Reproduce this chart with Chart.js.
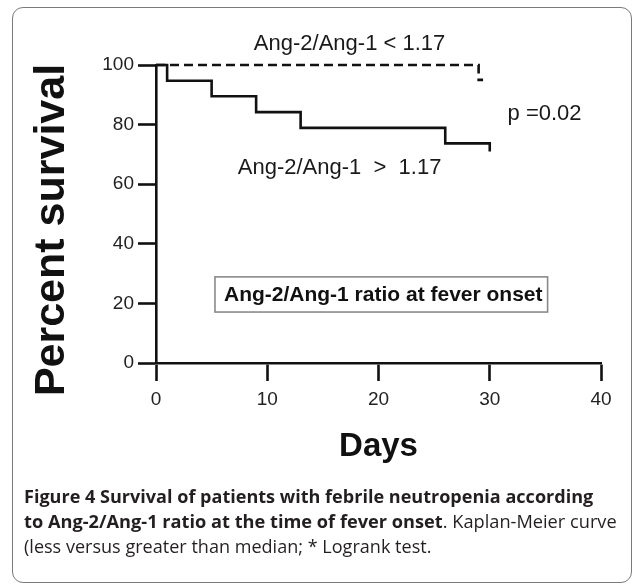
<!DOCTYPE html>
<html>
<head>
<meta charset="utf-8">
<script src="https://cdn.jsdelivr.net/npm/chart.js@4.4.1/dist/chart.umd.min.js"></script>
<style>
html,body{margin:0;padding:0;background:#fff;width:633px;height:584px;overflow:hidden;}
#wrap{position:relative;width:633px;height:584px;}
#frame{position:absolute;left:12px;top:7px;width:620px;height:576px;border:1px solid #7a7a7a;border-radius:11px;box-sizing:border-box;}
canvas{position:absolute;left:0;top:0;}
#caption{position:absolute;left:24px;top:484px;font-family:'Open Sans',sans-serif;font-size:17.5px;line-height:25px;color:#231f20;}
#caption .ln{display:block;white-space:nowrap;transform-origin:0 0;}
#caption b{font-weight:700;}
</style>
</head>
<body>
<div id="wrap">
  <div id="frame"></div>
  <canvas id="c" width="633" height="584"></canvas>
  <div id="caption">
    <span class="ln" data-w="588"><b>Figure 4 Survival of patients with febrile neutropenia according</b></span>
    <span class="ln" data-w="593"><b>to Ang-2/Ang-1 ratio at the time of fever onset</b>. Kaplan-Meier curve</span>
    <span class="ln">(less versus greater than median; * Logrank test.</span>
  </div>
</div>
<script>
// ---- data ----
const highDays      = [0, 1, 5, 9, 13, 26, 30, 30];
const highSurvival  = [100, 94.7, 89.5, 84.2, 78.9, 73.7, 73.7, 71];
const lowDays       = [0, 29, 29, 29.4];
const lowSurvival   = [100, 100, 95, 95];
const xTickValues   = [0, 10, 20, 30, 40];
const yTickValues   = [0, 20, 40, 60, 80, 100];
const seriesLabels  = ['Ang-2/Ang-1  >  1.17', 'Ang-2/Ang-1 < 1.17'];
const pValueText    = 'p =0.02';
const boxText       = 'Ang-2/Ang-1 ratio at fever onset';
const yTitle        = 'Percent survival';
const xTitle        = 'Days';

const FONT = "'Liberation Sans', Arial, Helvetica, sans-serif";
Chart.defaults.font.family = FONT;

const toXY = (xs, ys) => xs.map((v, i) => ({x: v, y: ys[i]}));

const annotate = {
  id: 'annotate',
  afterDraw(chart) {
    const {ctx, scales: {x, y}} = chart;
    ctx.save();
    ctx.fillStyle = '#1a1a1a';
    ctx.textBaseline = 'alphabetic';
    ctx.font = '22px ' + FONT;
    ctx.textAlign = 'center';
    ctx.fillText(seriesLabels[1], x.getPixelForValue(17.4), y.getPixelForValue(105));
    ctx.fillText(seriesLabels[0], x.getPixelForValue(16.5), y.getPixelForValue(63.4));
    ctx.textAlign = 'left';
    ctx.fillText(pValueText, x.getPixelForValue(31.6), y.getPixelForValue(81.5));

    // boxed note
    const bx1 = x.getPixelForValue(5.3), bx2 = x.getPixelForValue(35.2);
    const by1 = y.getPixelForValue(28.9), by2 = y.getPixelForValue(17.1);
    ctx.strokeStyle = '#8a8a8a';
    ctx.lineWidth = 1.6;
    ctx.strokeRect(bx1, by1, bx2 - bx1, by2 - by1);
    ctx.font = 'bold 21px ' + FONT;
    ctx.fillStyle = '#111';
    ctx.fillText(boxText, bx1 + 9, y.getPixelForValue(20.8));

    // rotated y title
    ctx.translate(64, 230);
    ctx.rotate(-Math.PI / 2);
    ctx.textAlign = 'center';
    ctx.font = 'bold 43px ' + FONT;
    ctx.fillText(yTitle, 0, 0);
    ctx.restore();
  }
};

const axisGrid = {display: true, drawOnChartArea: false, drawTicks: true, tickLength: 18, tickWidth: 2.6, tickColor: '#111'};
const axisBorder = {display: true, color: '#111', width: 2.6};

new Chart(document.getElementById('c'), {
  type: 'line',
  data: {
    datasets: [
      {label: seriesLabels[0], data: toXY(highDays, highSurvival), stepped: true,
       borderColor: '#111', borderWidth: 2.6, pointRadius: 0, fill: false, clip: false},
      {label: seriesLabels[1], data: toXY(lowDays, lowSurvival), stepped: true,
       borderColor: '#111', borderWidth: 2.6, borderDash: [9, 5], pointRadius: 0, fill: false, clip: false}
    ]
  },
  options: {
    responsive: false,
    animation: false,
    devicePixelRatio: 1,
    layout: {padding: {left: 12, top: 65, right: 32, bottom: 0}},
    plugins: {legend: {display: false}, tooltip: {enabled: false}},
    scales: {
      x: {
        type: 'linear', min: 0, max: 40,
        afterBuildTicks: s => { s.ticks = xTickValues.map(v => ({value: v})); },
        afterFit: s => { s.height = 221; },
        grid: axisGrid, border: axisBorder,
        ticks: {padding: 7, color: '#222', font: {size: 19}},
        title: {display: true, text: xTitle, color: '#111',
                font: {size: 33, weight: 'bold', lineHeight: 1}, padding: {top: 0, bottom: 121}}
      },
      y: {
        type: 'linear', min: 0, max: 100,
        afterBuildTicks: s => { s.ticks = yTickValues.map(v => ({value: v})); },
        afterFit: s => { s.width = 144; },
        grid: axisGrid, border: axisBorder,
        ticks: {padding: 4, color: '#222', font: {size: 19}}
      }
    }
  },
  plugins: [annotate]
});

function fitCaption() {
  const lines = document.querySelectorAll('#caption .ln');
  const first = lines[0];
  const f = parseFloat(first.dataset.w) / first.scrollWidth;
  lines.forEach(l => {
    const w = l.dataset.w ? parseFloat(l.dataset.w) / l.scrollWidth : f;
    l.style.transform = 'scaleX(' + w + ')';
  });
}
if (document.fonts && document.fonts.ready) document.fonts.ready.then(fitCaption); else fitCaption();
</script>
</body>
</html>
